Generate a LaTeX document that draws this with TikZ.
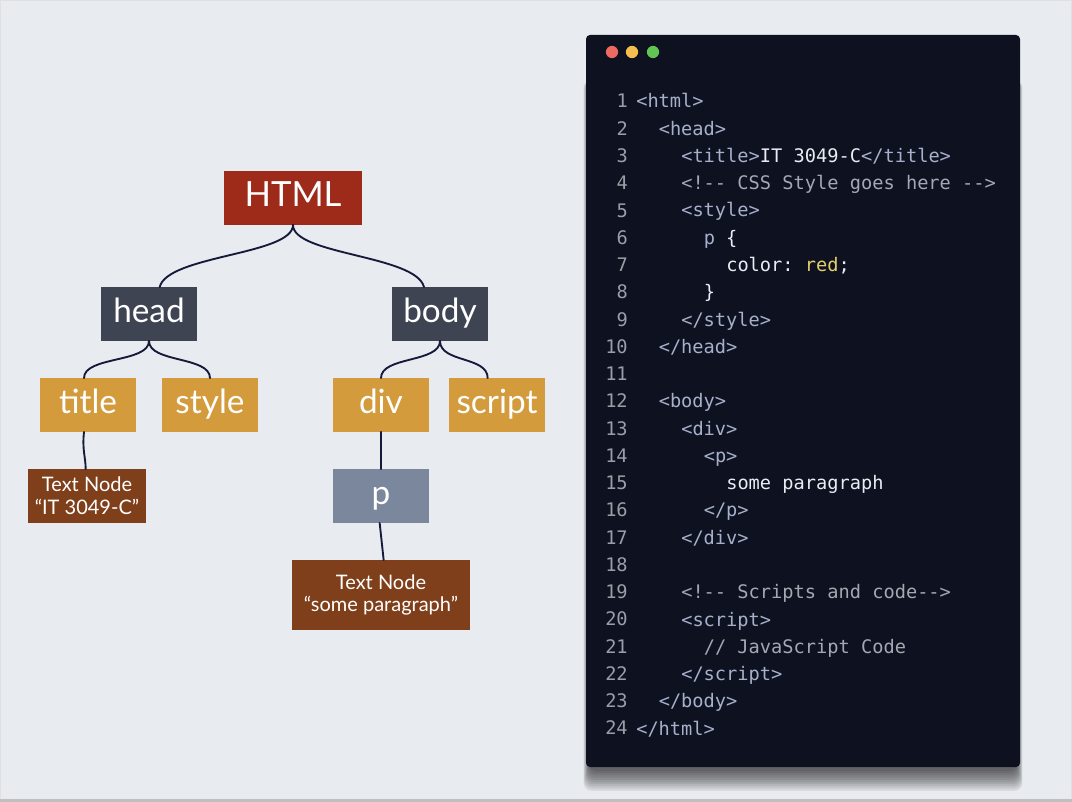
\documentclass[tikz,border=0pt]{standalone}
\usepackage{fontspec}
\setmainfont{Lato}
\setmonofont{DejaVu Sans Mono}

\newcommand{\tagtxt}[1]{\textcolor{tagcol}{#1}}
\newcommand{\cmttxt}[1]{\textcolor{cmtcol}{#1}}

\begin{document}
\begin{tikzpicture}[x=0.75pt,y=-0.75pt,
  treebox/.style={inner sep=0pt,text=white,minimum width=72pt,minimum height=40pt,text height=18pt,text depth=5pt,font=\fontsize{25}{30}\selectfont},
  rootnode/.style={treebox,fill=rootcol,minimum width=103.5pt,font=\fontsize{26}{30}\selectfont},
  branchnode/.style={treebox,fill=branchcol},
  leafnode/.style={treebox,fill=leafcol},
  pnode/.style={treebox,fill=pcol},
  textnode/.style={inner sep=0pt,text=white,fill=textcol,align=center,minimum height=40pt,font=\fontsize{15}{17}\selectfont},
  link/.style={draw=linkcol,line width=1.4pt,line cap=round},
  lnum/.style={anchor=base east,inner sep=0pt,text=numcol,font=\ttfamily\fontsize{14}{16}\selectfont},
  codeline/.style={anchor=base west,inner sep=0pt,text=codewhite,font=\ttfamily\fontsize{14}{16}\selectfont}]
\definecolor{bgcol}{HTML}{E8EBF0}
\definecolor{rootcol}{HTML}{9E2A1A}
\definecolor{branchcol}{HTML}{3F4452}
\definecolor{leafcol}{HTML}{D39B3C}
\definecolor{pcol}{HTML}{7B879D}
\definecolor{textcol}{HTML}{7E3F1A}
\definecolor{linkcol}{HTML}{15193A}
\definecolor{panelcol}{HTML}{0D1120}
\definecolor{numcol}{HTML}{9A9EA6}
\definecolor{tagcol}{HTML}{A7B0CA}
\definecolor{cmtcol}{HTML}{A4A8B0}
\definecolor{codewhite}{HTML}{E9ECF2}
\definecolor{codeyellow}{HTML}{E2CF6B}
\definecolor{dotred}{HTML}{EC6A5E}
\definecolor{dotyellow}{HTML}{F4BF4F}
\definecolor{dotgreen}{HTML}{61C554}

% background
\useasboundingbox (0,0) rectangle (1072,802);
\fill[bgcol] (0,0) rectangle (1072,802);
\draw[color=black!12,line width=1.5pt] (0,0) rectangle (1072,802);
\fill[black!25] (0,799) rectangle (1072,802);

% DOM tree
\node[rootnode] (html) at (293,198) {HTML};
\node[branchnode] (head) at (149,314) {head};
\node[branchnode] (body) at (440,314) {body};
\node[leafnode] (title) at (88,405) {title};
\node[leafnode] (style) at (210,405) {style};
\node[leafnode] (div) at (381,405) {div};
\node[leafnode] (script) at (497,405) {script};
\node[textnode,minimum width=89pt] (titletext) at (87,496) {Text Node\\“IT 3049-C”};
\node[pnode] (p) at (381,496) {p};
\node[textnode,minimum width=133.5pt,minimum height=52pt] (ptext) at (381,595) {Text Node\\“some paragraph”};

\draw[link] (html.south) .. controls +(0,30) and +(8,-32) .. ([xshift=8pt]head.north);
\draw[link] (html.south) .. controls +(0,30) and +(-8,-32) .. ([xshift=-12pt]body.north);
\draw[link] (head.south) .. controls +(0,22) and +(0,-22) .. ([xshift=-3pt]title.north);
\draw[link] (head.south) .. controls +(0,22) and +(0,-22) .. (style.north);
\draw[link] (body.south) .. controls +(0,22) and +(0,-22) .. (div.north);
\draw[link] (body.south) .. controls +(0,22) and +(0,-22) .. ([xshift=-7pt]script.north);
\draw[link] ([xshift=-3pt]title.south) .. controls +(-2,18) and +(0,-12) .. ([xshift=-1pt]titletext.north);
\draw[link] (div.south) -- (p.north);
\draw[link] ([xshift=-1pt]p.south) -- ([xshift=2pt]ptext.north);

% code window with its shadow
\foreach \k in {0,...,9}
  \fill[black,opacity=0.08,rounded corners=6pt] ({589-0.6*\k},80) rectangle ({1017+0.6*\k},{771+2.2*\k});
\fill[panelcol,rounded corners=3pt] (586,35) rectangle (1020,767);
\fill[dotred] (612,52) circle[radius=4.6pt];
\fill[dotyellow] (632,52) circle[radius=4.6pt];
\fill[dotgreen] (653,52) circle[radius=4.6pt];

\foreach \n in {1,...,24}
  \node[lnum] (num\n) at (628,{108+27.26*(\n-1)}) {\n};

\node[codeline] (c1) at (636,108) {\tagtxt{<html>}};
\node[codeline] (c2) at (658.5,135.3) {\tagtxt{<head>}};
\node[codeline] (c3) at (681,162.5) {\tagtxt{<title>}IT 3049-C\tagtxt{</title>}};
\node[codeline] (c4) at (681,189.8) {\cmttxt{<!-{}- CSS Style goes here -{}->}};
\node[codeline] (c5) at (681,217) {\tagtxt{<style>}};
\node[codeline] (c6) at (703.5,244.3) {\tagtxt{p} \{};
\node[codeline] (c7) at (726,271.6) {color: \textcolor{codeyellow}{red};};
\node[codeline] (c8) at (703.5,298.8) {\}};
\node[codeline] (c9) at (681,326.1) {\tagtxt{</style>}};
\node[codeline] (c10) at (658.5,353.3) {\tagtxt{</head>}};
\node[codeline] (c12) at (658.5,407.9) {\tagtxt{<body>}};
\node[codeline] (c13) at (681,435.1) {\tagtxt{<div>}};
\node[codeline] (c14) at (703.5,462.4) {\tagtxt{<p>}};
\node[codeline] (c15) at (726,489.7) {some paragraph};
\node[codeline] (c16) at (703.5,516.9) {\tagtxt{</p>}};
\node[codeline] (c17) at (681,544.2) {\tagtxt{</div>}};
\node[codeline] (c19) at (681,598.7) {\cmttxt{<!-{}- Scripts and code-{}->}};
\node[codeline] (c20) at (681,626) {\tagtxt{<script>}};
\node[codeline] (c21) at (703.5,653.2) {\cmttxt{// JavaScript Code}};
\node[codeline] (c22) at (681,680.5) {\tagtxt{</script>}};
\node[codeline] (c23) at (658.5,707.8) {\tagtxt{</body>}};
\node[codeline] (c24) at (636,735) {\tagtxt{</html>}};
\end{tikzpicture}
\end{document}
